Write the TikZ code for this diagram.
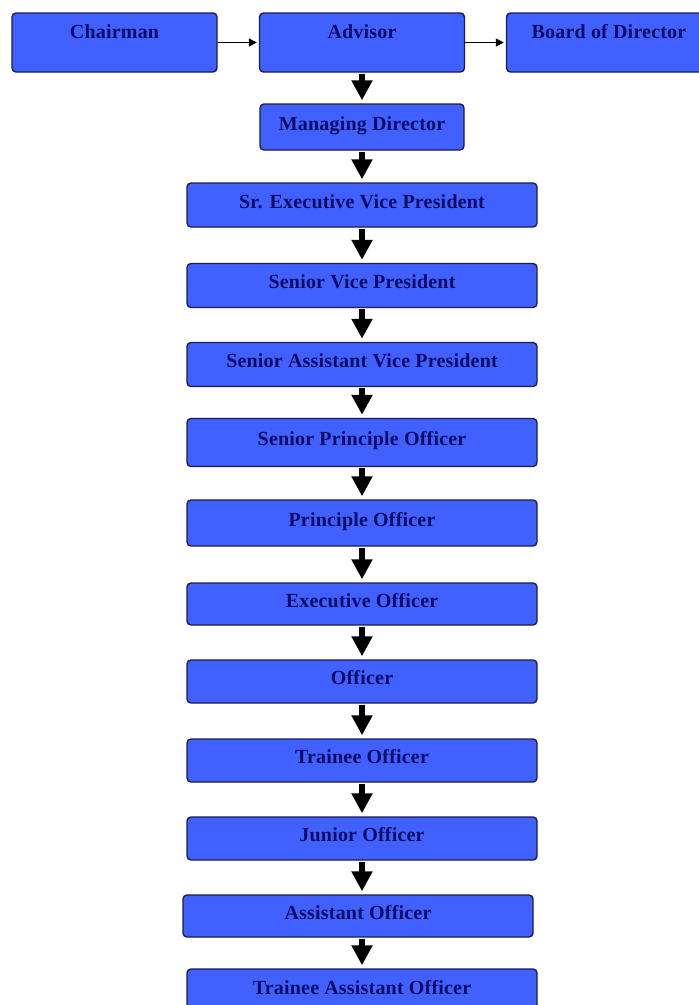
\documentclass[tikz,border=0pt]{standalone}
\usepackage{fontspec}
\setmainfont{Liberation Serif}
\usetikzlibrary{arrows.meta}
\definecolor{boxblue}{RGB}{64,96,255}
\definecolor{boxline}{RGB}{28,28,80}
\definecolor{txtnavy}{RGB}{12,12,100}
\tikzset{
  box/.style={draw=boxline, fill=boxblue, line width=1.4pt, rounded corners=4pt,
    text=txtnavy, font=\bfseries\fontsize{20}{21}\selectfont\addfontfeature{LetterSpace=1}, inner sep=0pt,
    minimum width=350pt, minimum height=44pt, text height=13.5pt, text depth=7.5pt},
  topbox/.style={box, minimum width=205pt, minimum height=59pt, text height=13pt, text depth=22pt},
  down/.style={-{Triangle[width=20pt,length=20pt]}, line width=6pt, shorten >=3pt, shorten <=1pt},
  side/.style={-{Triangle[width=8pt,length=8pt]}, line width=1.5pt, shorten >=2pt}
}
\begin{document}
\begin{tikzpicture}[x=1pt,y=-1pt]
\useasboundingbox (0,0) rectangle (699,1005);
\fill[white] (0,0) rectangle (699,1005);
\clip (0,0) rectangle (699,1005);
\node[topbox] (chair) at (114.5,42.5) {Chairman};
\node[topbox] (adv) at (362,42.5) {Advisor};
\node[topbox] (board) at (609,42.5) {Board of Director};
\node[box, minimum width=204pt, minimum height=46pt] (md) at (362,127) {Managing Director};
\node[box] (sevp) at (362,205) {Sr. Executive Vice President};
\node[box] (svp) at (362,285.5) {Senior Vice President};
\node[box] (savp) at (362,364.5) {Senior Assistant Vice President};
\node[box, minimum height=48pt] (spo) at (362,442.5) {Senior Principle Officer};
\node[box, minimum height=46pt] (po) at (362,523) {Principle Officer};
\node[box, minimum height=42pt] (eo) at (362,604) {Executive Officer};
\node[box, minimum height=43pt] (off) at (362,681.5) {Officer};
\node[box, minimum height=43pt] (tro) at (362,760.5) {Trainee Officer};
\node[box, minimum height=43pt] (jo) at (362,838.5) {Junior Officer};
\node[box, minimum height=42pt] (ao) at (358,916) {Assistant Officer};
\node[box] (tao) at (362,991) {Trainee Assistant Officer};
\draw[side] (chair) -- (adv);
\draw[side] (adv) -- (board);
\draw[down] (adv.south) -- (md.north);
\draw[down] (md.south) -- (sevp.north);
\draw[down] (sevp.south) -- (svp.north);
\draw[down] (svp.south) -- (savp.north);
\draw[down] (savp.south) -- (spo.north);
\draw[down] (spo.south) -- (po.north);
\draw[down] (po.south) -- (eo.north);
\draw[down] (eo.south) -- (off.north);
\draw[down] (off.south) -- (tro.north);
\draw[down] (tro.south) -- (jo.north);
\draw[down] (jo.south) -- (ao.north -| jo.south);
\draw[down] (ao.south -| tao.north) -- (tao.north);
\end{tikzpicture}
\end{document}
